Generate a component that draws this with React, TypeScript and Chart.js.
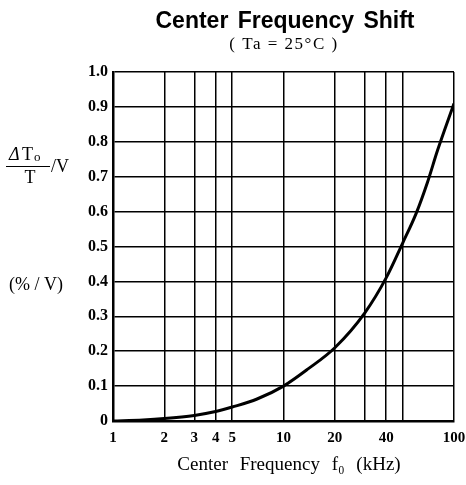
import React, { useEffect, useRef } from "react";
import { Chart, registerables } from "chart.js";

Chart.register(...registerables);

const freqKHz = [1, 1.5, 2, 3, 4, 5, 7, 10, 14, 20, 30, 40, 50, 60, 70, 80, 100];
const shiftPctPerV = [0, 0.003, 0.007, 0.016, 0.027, 0.04, 0.063, 0.1, 0.15, 0.21, 0.31, 0.41, 0.51, 0.595, 0.685, 0.775, 0.91];
const xGridTicks = [1, 2, 3, 4, 5, 10, 20, 30, 40, 50, 100];
const xLabelTicks = [1, 2, 3, 4, 5, 10, 20, 40, 100];
const titleText = "Center Frequency Shift";
const subtitleText = "( Ta = 25°C )";
const xTitleText = "Center Frequency f\u2080 (kHz)";
const yUnitText = "(% / V)";

const SERIF = "'Liberation Serif', 'DejaVu Serif', serif";
const SANS = "'Liberation Sans', Arial, sans-serif";

const textPlugin = {
  id: "textPlugin",
  afterDraw(chart: any) {
    const ctx = chart.ctx as CanvasRenderingContext2D;
    const c = ctx as any;
    ctx.save();
    ctx.fillStyle = "#000";
    ctx.strokeStyle = "#000";
    ctx.textBaseline = "middle";
    ctx.textAlign = "center";
    ctx.font = `bold 23px ${SANS}`;
    c.wordSpacing = "3px";
    ctx.fillText(titleText, 285, 22);
    c.wordSpacing = "0px";
    ctx.font = `17px ${SERIF}`;
    c.letterSpacing = "1.5px";
    ctx.fillText(subtitleText, 284, 45);
    c.letterSpacing = "0px";
    ctx.font = `19px ${SERIF}`;
    c.wordSpacing = "7px";
    ctx.fillText(xTitleText, 289, 465);
    c.wordSpacing = "0px";
    // y-axis label: fraction
    ctx.textAlign = "left";
    ctx.font = `italic 18px ${SERIF}`;
    ctx.fillText("\u0394", 9, 155);
    ctx.font = `18px ${SERIF}`;
    ctx.fillText("T", 22, 155);
    ctx.font = `13px ${SERIF}`;
    ctx.fillText("o", 34, 158);
    ctx.beginPath();
    ctx.lineWidth = 1;
    ctx.moveTo(6, 166.5);
    ctx.lineTo(50, 166.5);
    ctx.stroke();
    ctx.font = `18px ${SERIF}`;
    ctx.textAlign = "center";
    ctx.fillText("T", 30, 178);
    ctx.textAlign = "left";
    ctx.fillText("/V", 51, 167);
    ctx.fillText(yUnitText, 9, 285);
    ctx.restore();
  },
};

export default function App() {
  const ref = useRef<HTMLCanvasElement | null>(null);
  useEffect(() => {
    if (!ref.current) return;
    const chart = new Chart(ref.current, {
      type: "line",
      data: {
        datasets: [
          {
            data: freqKHz.map((x, i) => ({ x, y: shiftPctPerV[i] })),
            borderColor: "#000",
            borderWidth: 3,
            pointRadius: 0,
            cubicInterpolationMode: "monotone",
            fill: false,
          },
        ],
      },
      options: {
        animation: false,
        responsive: true,
        maintainAspectRatio: false,
        layout: { padding: { top: 72, right: 0, bottom: 0, left: 0 } },
        plugins: { legend: { display: false }, tooltip: { enabled: false }, title: { display: false } },
        scales: {
          x: {
            type: "logarithmic",
            min: 1,
            max: 100,
            afterBuildTicks: (scale: any) => {
              scale.ticks = xGridTicks.map((v) => ({ value: v }));
            },
            afterFit: (scale: any) => {
              scale.height = 64;
              scale.paddingRight = 12;
              scale.paddingLeft = 0;
            },
            grid: { color: "#000", lineWidth: 1.5, drawTicks: false },
            border: { color: "#000", width: 2.5 },
            ticks: {
              autoSkip: false,
              maxRotation: 0,
              padding: 8,
              color: "#000",
              font: { family: SERIF, size: 15, weight: "bold" },
              callback: (v: any) => (xLabelTicks.includes(Number(v)) ? String(v) : ""),
            },
          },
          y: {
            min: 0,
            max: 1,
            afterFit: (scale: any) => {
              scale.width = 113;
            },
            grid: { color: "#000", lineWidth: 1.5, drawTicks: false },
            border: { color: "#000", width: 2.5 },
            ticks: {
              stepSize: 0.1,
              padding: 5,
              color: "#000",
              font: { family: SERIF, size: 16, weight: "bold" },
              callback: (v: any) => (Number(v) === 0 ? "0" : Number(v).toFixed(1)),
            },
          },
        },
      },
      plugins: [textPlugin],
    } as any);
    return () => chart.destroy();
  }, []);
  return (
    <div style={{ position: "absolute", left: 0, top: 0, width: 466, height: 485, background: "#fff" }}>
      <canvas ref={ref} />
    </div>
  );
}
